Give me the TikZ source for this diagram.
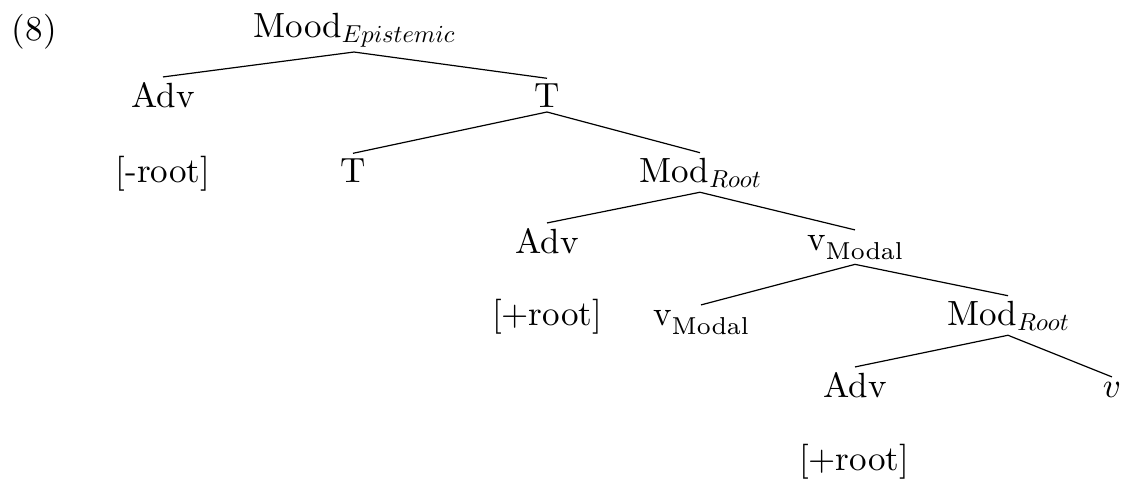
\documentclass[tikz,border=0pt]{standalone}
\newcommand{\bigtxt}[1]{\scalebox{3.5}{#1}}
\newcommand{\itsub}[1]{\raisebox{-1.5pt}{\scalebox{0.7}{$#1$}}}
\newcommand{\rmsub}[1]{\raisebox{-2.6pt}{\fontsize{7}{8}\selectfont #1}}
\tikzset{
  lbl/.style={font=\fontsize{10}{12}\selectfont, anchor=base, inner sep=5pt, outer sep=0pt},
  edge/.style={line width=1.2pt}
}
\begin{document}
\begin{tikzpicture}[x=1pt,y=-1pt]
\useasboundingbox (0,0) rectangle (1125,480);
% example number
\node[lbl, anchor=base west, inner sep=0pt] (ex) at (12,40) {\bigtxt{(8)}};
% tree nodes
\node[lbl] (mood) at (354,37) {\bigtxt{Mood\itsub{Epistemic}}};
\node[lbl] (adv1) at (163,107) {\bigtxt{Adv}};
\node[lbl] (t1) at (547,107) {\bigtxt{T}};
\node[lbl] (neg) at (163,182) {\bigtxt{[-root]}};
\node[lbl] (t2) at (353,182) {\bigtxt{T}};
\node[lbl] (modr2) at (700,182) {\bigtxt{Mod\itsub{Root}}};
\node[lbl] (adv3) at (547,253) {\bigtxt{Adv}};
\node[lbl] (vmod3) at (855,250) {\bigtxt{v\rmsub{Modal}}};
\node[lbl] (pos3) at (547,325) {\bigtxt{[+root]}};
\node[lbl] (vmod4) at (701,325) {\bigtxt{v\rmsub{Modal}}};
\node[lbl] (modr4) at (1008,325) {\bigtxt{Mod\itsub{Root}}};
\node[lbl] (adv5) at (855,397) {\bigtxt{Adv}};
\node[lbl] (v5) at (1112,397) {\bigtxt{$v$}};
\node[lbl] (pos5) at (854,470) {\bigtxt{[+root]}};
% branches
\draw[edge] (adv1.north) -- (mood.south) -- (t1.north);
\draw[edge] (t2.north) -- (t1.south) -- (modr2.north);
\draw[edge] (adv3.north) -- (modr2.south) -- (vmod3.north);
\draw[edge] (vmod4.north) -- (vmod3.south) -- (modr4.north);
\draw[edge] (adv5.north) -- (modr4.south) -- (v5.north);
\end{tikzpicture}
\end{document}
